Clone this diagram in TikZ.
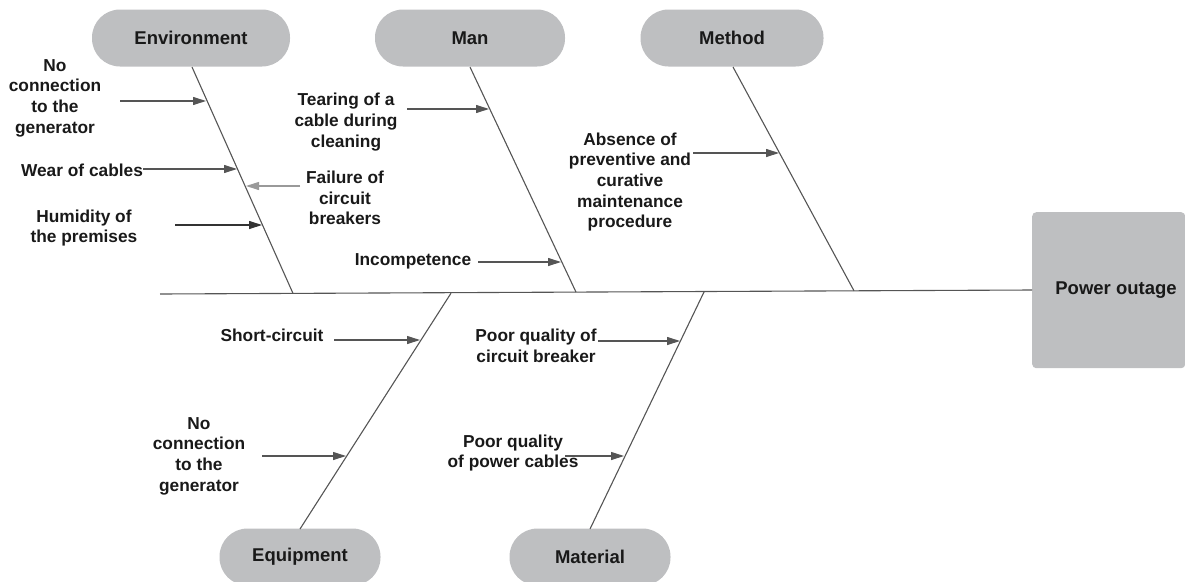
\documentclass[tikz,border=0pt]{standalone}
\usepackage{fontspec}
\setmainfont{Liberation Sans}
\usetikzlibrary{arrows.meta,calc}
\definecolor{boxgray}{RGB}{190,191,193}
\definecolor{linegray}{RGB}{85,85,85}
\definecolor{txt}{RGB}{25,25,25}
\tikzset{
  cat/.style={draw=none,fill=boxgray,rounded corners=28pt,minimum height=57pt,text=txt,font=\fontsize{18.5}{22}\selectfont\bfseries,inner sep=0pt},
  lab/.style={align=center,text=txt,font=\fontsize{17.3}{20.7}\selectfont\bfseries,inner sep=0pt},
  bone/.style={draw=linegray,line width=1.1pt},
  cause/.style={draw=linegray,line width=1.1pt,-{Triangle[length=13pt,width=8pt]}},
}
\begin{document}
\begin{tikzpicture}[x=1pt,y=-1pt]
\useasboundingbox (0,0) rectangle (1185,581);
% category nodes
\node[cat,minimum width=198pt] (env) at (191,38) {Environment};
\node[cat,minimum width=190pt] (man) at (470,38) {Man};
\node[cat,minimum width=183pt] (meth) at (732,38) {Method};
\node[cat,minimum width=161pt] (equip) at (300,557) {Equipment};
\node[cat,minimum width=161pt] (mat) at (590,557) {Material};
\node[draw=none,fill=boxgray,rounded corners=4pt,minimum width=153pt,minimum height=156pt,anchor=north west,inner sep=0pt] (out) at (1032,212) {};
\node[text=txt,font=\fontsize{18.5}{22}\selectfont\bfseries] (outtxt) at (1116,290) {Power outage};
% spine
\coordinate (spl) at (160,294);
\coordinate (spr) at (1032,290);
\draw[bone] (spl) -- (spr);
% bone ends on spine
\coordinate (envb) at (293,293.4);
\coordinate (manb) at (576,292.1);
\coordinate (methb) at (854,290.8);
\coordinate (equipb) at (451,293.2);
\coordinate (matb) at (704,292);
\draw[bone] (192,67) -- (envb);
\draw[bone] (470,67) -- (manb);
\draw[bone] (733,67) -- (methb);
\draw[bone] (300,529) -- (equipb);
\draw[bone] (590,529) -- (matb);
% labels
\node[lab] (l1) at (55,98) {No\\connection\\to the\\generator};
\node[lab] (l2) at (82,170) {Wear of cables};
\node[lab] (l3) at (345,198) {Failure of\\circuit\\breakers};
\node[lab] (l4) at (84,228) {Humidity of\\the premises};
\node[lab] (l5) at (346,122) {Tearing of a\\cable during\\cleaning};
\node[lab] (l6) at (413,261) {Incompetence};
\node[lab] (l7) at (630,182) {Absence of\\preventive and\\curative\\maintenance\\procedure};
\node[lab] (l8) at (272,335) {Short-circuit};
\node[lab] (l9) at (199,456) {No\\connection\\to the\\generator};
\node[lab] (l10) at (536,346) {Poor quality of\\circuit breaker};
\node[lab] (l11) at (513,453) {Poor quality\\of power cables};
% arrow tails and heads
\coordinate (t1) at (120,101); \coordinate (h1) at (206,101);
\coordinate (t2) at (143,169); \coordinate (h2) at (237,169);
\coordinate (t3) at (300,186); \coordinate (h3) at (246,186);
\coordinate (t4) at (175,225); \coordinate (h4) at (262,225);
\coordinate (t5) at (407,109); \coordinate (h5) at (489,109);
\coordinate (t6) at (478,262); \coordinate (h6) at (561,262);
\coordinate (t7) at (693,153); \coordinate (h7) at (779,153);
\coordinate (t8) at (334,340); \coordinate (h8) at (420,340);
\coordinate (t9) at (262,456); \coordinate (h9) at (346,456);
\coordinate (t10) at (598,341); \coordinate (h10) at (680,341);
\coordinate (t11) at (565,456); \coordinate (h11) at (624,456);
\draw[cause] (t1) -- (h1);
\draw[cause] (t2) -- (h2);
\draw[cause,draw=gray!80] (t3) -- (h3);
\draw[cause,draw=black!80] (t4) -- (h4);
\draw[cause] (t5) -- (h5);
\draw[cause] (t6) -- (h6);
\draw[cause] (t7) -- (h7);
\draw[cause] (t8) -- (h8);
\draw[cause] (t9) -- (h9);
\draw[cause] (t10) -- (h10);
\draw[cause] (t11) -- (h11);
\end{tikzpicture}
\end{document}
